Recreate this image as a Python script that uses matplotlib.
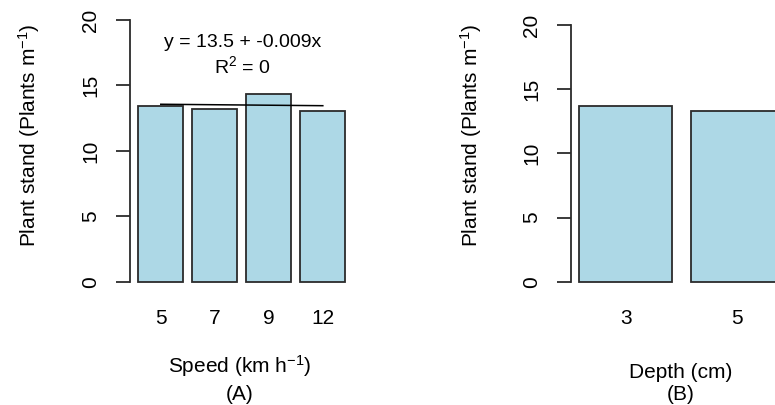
import matplotlib
matplotlib.use('Agg')
import matplotlib.pyplot as plt

# ---- data ----
speed_labels = ['5', '7', '9', '12']
speed_values = [13.43, 13.18, 14.33, 13.05]
depth_labels = ['3', '5']
depth_values = [13.69, 13.30]
reg_intercept = 13.5
reg_slope = -0.009
reg_r2 = 0
reg_line_values = [13.56, 13.45]   # fitted line ends as drawn
y_ticks = [0, 5, 10, 15, 20]

plt.rcParams['font.family'] = ['Liberation Sans', 'DejaVu Sans']
plt.rcParams['mathtext.fontset'] = 'custom'
plt.rcParams['mathtext.rm'] = 'Liberation Sans'
plt.rcParams['mathtext.it'] = 'Liberation Sans:italic'
plt.rcParams['mathtext.bf'] = 'Liberation Sans:bold'
plt.rcParams['mathtext.default'] = 'regular'

W, H = 775, 405
fig = plt.figure(figsize=(W / 100, H / 100), dpi=100)

BAR_FILL = '#ADD8E6'
EDGE = '#2b2b2b'
FS = 15


def px_axes(x0, x1, ytop, ybot):
    return fig.add_axes([x0 / W, 1 - ybot / H, (x1 - x0) / W, (ybot - ytop) / H])


def style_axes(ax, centers, labels, xlim):
    ax.set_xlim(*xlim)
    ax.set_ylim(-0.8, 20.8)
    for s in ['top', 'right', 'bottom']:
        ax.spines[s].set_visible(False)
    ax.spines['left'].set_bounds(0, 20)
    ax.spines['left'].set_color(EDGE)
    ax.spines['left'].set_linewidth(1.3)
    ax.set_yticks(y_ticks)
    ax.set_yticklabels([str(t) for t in y_ticks], rotation=90, va='center')
    ax.tick_params(axis='y', length=10, width=1.3, color=EDGE, pad=11.5,
                   labelsize=FS)
    ax.set_xticks(centers)
    ax.set_xticklabels(labels)
    ax.tick_params(axis='x', length=0, pad=12, labelsize=FS)
    ax.patch.set_visible(False)


def bar_centers(n):
    return [0.7 + 1.2 * i for i in range(n)]


# ---- panel A ----
axA = px_axes(130, 353.6, 9.5, 292.2)
cA = bar_centers(len(speed_values))
axA.bar(cA, speed_values, width=1, color=BAR_FILL, edgecolor=EDGE, linewidth=1.3)
axA.plot([cA[0], cA[-1]], reg_line_values, color='black', linewidth=1.1)
style_axes(axA, cA, speed_labels, (0.016, 4.984))

eq = f"y = {reg_intercept} + {reg_slope}x"
fig.text(243 / W, 1 - 46.7 / H, eq, ha='center', va='baseline', fontsize=14)
fig.text(242 / W, 1 - 73.3 / H, r"R$^{2}$ = " + str(reg_r2), ha='center',
         va='baseline', fontsize=14)

fig.text(36 / W, 1 - 135.5 / H, r"Plant stand (Plants m$^{-1}$)", rotation=90,
         rotation_mode='anchor', ha='center', va='baseline', fontsize=FS)
fig.text(240 / W, 1 - 373 / H, r"Speed (km h$^{-1}$)", ha='center',
         va='baseline', fontsize=FS)
fig.text(240 / W, 1 - 400 / H, "(A)", ha='center', va='baseline', fontsize=FS)

# ---- panel B ----
axB = px_axes(571, 792, 14.7, 292)
cB = bar_centers(len(depth_values))
axB.bar(cB, depth_values, width=1, color=BAR_FILL, edgecolor=EDGE, linewidth=1.3)
style_axes(axB, cB, depth_labels, (0.112, 2.488))

fig.text(478 / W, 1 - 135.5 / H, r"Plant stand (Plants m$^{-1}$)", rotation=90,
         rotation_mode='anchor', ha='center', va='baseline', fontsize=FS)
fig.text(681 / W, 1 - 378 / H, "Depth (cm)", ha='center', va='baseline',
         fontsize=FS)
fig.text(681 / W, 1 - 400 / H, "(B)", ha='center', va='baseline', fontsize=FS)

fig.savefig('out.png', dpi=100)
